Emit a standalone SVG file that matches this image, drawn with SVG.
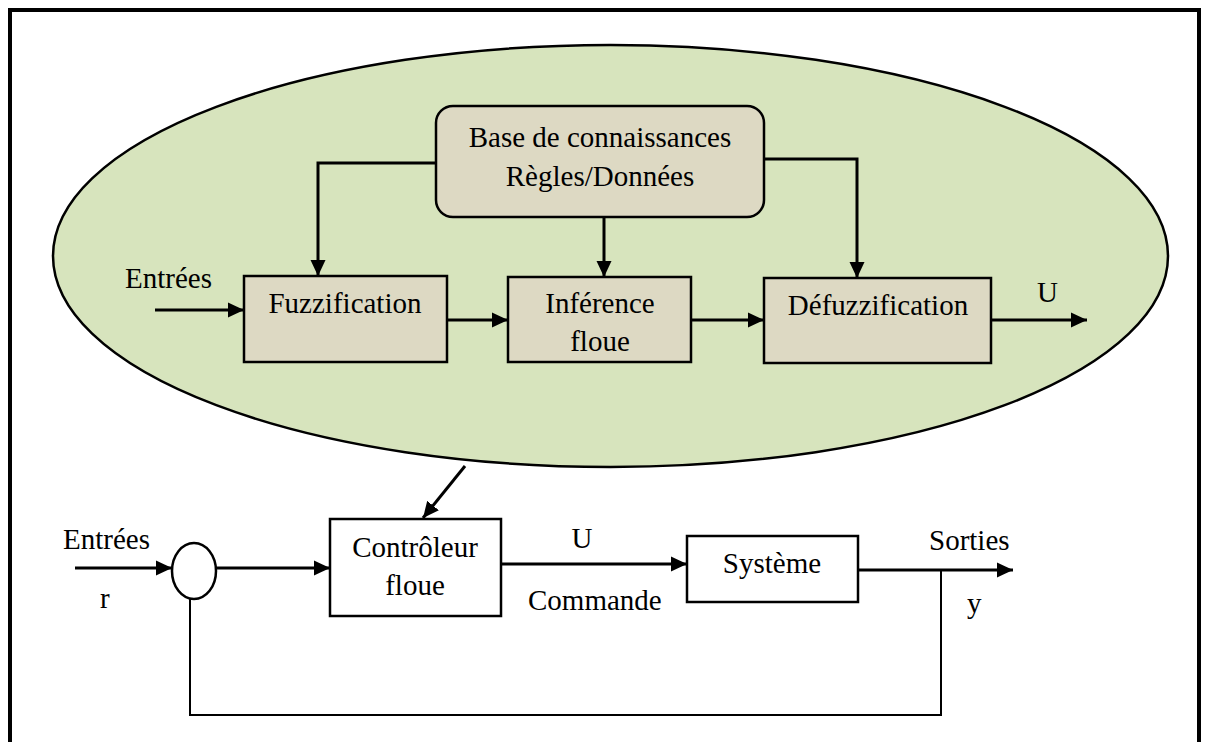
<svg xmlns="http://www.w3.org/2000/svg" width="1207" height="742" viewBox="0 0 1207 742">
<style>
text{font-family:"Liberation Serif","Times New Roman",serif;font-size:29px;fill:#000}
.c{text-anchor:middle}
.box{fill:#ddd9c3;stroke:#000;stroke-width:2.5}
.wbox{fill:#fff;stroke:#000;stroke-width:2.5}
.ln{fill:none;stroke:#000;stroke-width:3}
.fb{fill:none;stroke:#000;stroke-width:2}
</style>
<defs>
<marker id="ah" markerUnits="userSpaceOnUse" markerWidth="18" markerHeight="18" refX="16" refY="8" orient="auto">
<path d="M0,0.5 L16,8 L0,15.5 z" fill="#000"/>
</marker>
</defs>
<rect x="0" y="0" width="1207" height="742" fill="#fff"/>
<rect x="10" y="10" width="1189" height="800" fill="none" stroke="#000" stroke-width="4"/>
<ellipse cx="610.5" cy="256" rx="557.5" ry="211" fill="#d7e4bd" stroke="#000" stroke-width="2.5"/>

<g id="base">
<rect class="box" x="436" y="106" width="328" height="111" rx="17"/>
<text class="c" x="600" y="147">Base de connaissances</text>
<text class="c" x="600" y="186">Règles/Données</text>
</g>
<g id="fuzz">
<rect class="box" x="244" y="276" width="203" height="86"/>
<text class="c" x="345" y="313">Fuzzification</text>
</g>
<g id="inference">
<rect class="box" x="508" y="277" width="183" height="85"/>
<text class="c" x="600" y="313">Inférence</text>
<text class="c" x="600" y="351">floue</text>
</g>
<g id="defuzz">
<rect class="box" x="764" y="278" width="227" height="85"/>
<text class="c" x="878" y="315">Défuzzification</text>
</g>
<g id="labels-top">
<text x="125" y="288">Entrées</text>
<text x="1037" y="302">U</text>
</g>

<g id="controleur">
<rect class="wbox" x="330" y="519" width="171" height="97"/>
<text class="c" x="415" y="557">Contrôleur</text>
<text class="c" x="415" y="595">floue</text>
</g>
<g id="comparateur">
<ellipse cx="194" cy="571" rx="22" ry="28" fill="#fff" stroke="#000" stroke-width="2.5"/>
</g>
<g id="systeme">
<rect class="wbox" x="687" y="536" width="171" height="66"/>
<text class="c" x="772" y="573">Système</text>
</g>
<g id="labels-bottom">
<text x="63" y="549">Entrées</text>
<text x="100" y="608">r</text>
<text class="c" x="582" y="548">U</text>
<text x="528" y="610">Commande</text>
<text x="929" y="550">Sorties</text>
<text x="967" y="613">y</text>
</g>

<g id="connectors">
<path class="ln" d="M436,163 H318 V276" marker-end="url(#ah)"/>
<path class="ln" d="M604,217 V277" marker-end="url(#ah)"/>
<path class="ln" d="M764,159 H857 V278" marker-end="url(#ah)"/>
<path class="ln" d="M155,310 H244" marker-end="url(#ah)"/>
<path class="ln" d="M447,320 H508" marker-end="url(#ah)"/>
<path class="ln" d="M691,320 H764" marker-end="url(#ah)"/>
<path class="ln" d="M991,320 H1087" marker-end="url(#ah)"/>
<path class="ln" d="M465,466 L423,518" marker-end="url(#ah)"/>
<path class="ln" d="M75,568 H172" marker-end="url(#ah)"/>
<path class="ln" d="M216,568 H330" marker-end="url(#ah)"/>
<path class="ln" d="M501,564 H687" marker-end="url(#ah)"/>
<path class="ln" d="M858,570 H1013" marker-end="url(#ah)"/>
<path class="fb" d="M941,570 V715 H190 V598"/>
</g>
</svg>
